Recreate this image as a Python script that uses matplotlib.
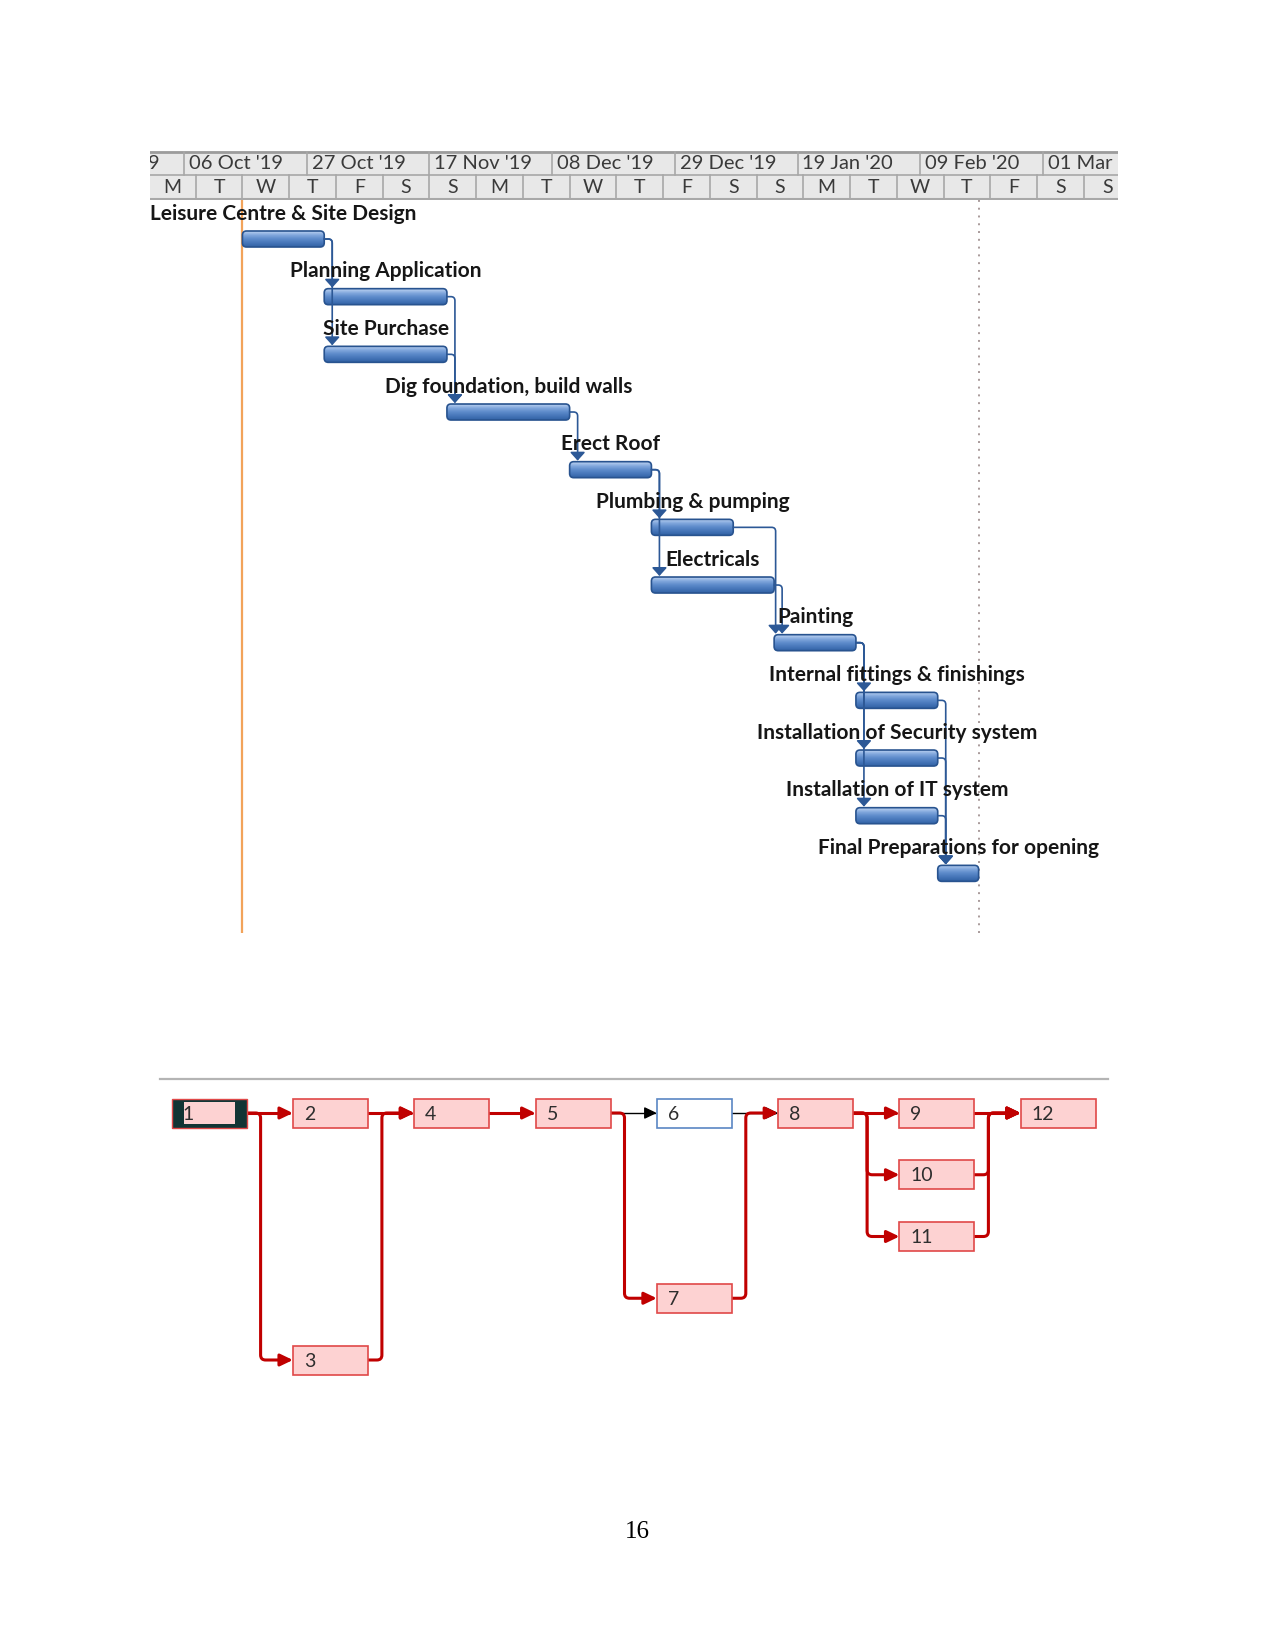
import numpy as np
import matplotlib
matplotlib.use("Agg")
import matplotlib.pyplot as plt
import matplotlib.dates as mdates
from matplotlib.patches import Rectangle, FancyBboxPatch, FancyArrowPatch
from matplotlib.path import Path
from matplotlib.colors import LinearSegmentedColormap

# ---------------- gantt data ----------------
task_names = ["Leisure Centre & Site Design", "Planning Application", "Site Purchase",
              "Dig foundation, build walls", "Erect Roof", "Plumbing & pumping",
              "Electricals", "Painting", "Internal fittings & finishings",
              "Installation of Security system", "Installation of IT system",
              "Final Preparations for opening"]
task_start = ["2019-10-16", "2019-10-30", "2019-10-30", "2019-11-20", "2019-12-11",
              "2019-12-25", "2019-12-25", "2020-01-15", "2020-01-29", "2020-01-29",
              "2020-01-29", "2020-02-12"]
task_days = [14, 21, 21, 21, 14, 14, 21, 14, 14, 14, 14, 7]
task_preds = [[], [1], [1], [2, 3], [4], [5], [5], [6, 7], [8], [8], [8], [9, 10, 11]]
status_date = "2019-10-16"
finish_date = "2020-02-19"

# timescale tiers
month_starts = ["2019-09-15", "2019-10-06", "2019-10-27", "2019-11-17", "2019-12-08",
                "2019-12-29", "2020-01-19", "2020-02-09", "2020-03-01"]
month_labels = ["15 Sep '19", "06 Oct '19", "27 Oct '19", "17 Nov '19", "08 Dec '19",
                "29 Dec '19", "19 Jan '20", "09 Feb '20", "01 Mar '20"]
day_tier_start = "2019-09-30"
day_tier_step = 8
day_letters = ["M", "T", "W", "T", "F", "S", "S"] * 3

# ---------------- network data ----------------
node_ids = [1, 2, 3, 4, 5, 6, 7, 8, 9, 10, 11, 12]
node_col = [0, 1, 1, 2, 3, 4, 4, 5, 6, 6, 6, 7]
node_row = [0, 0, 4, 0, 0, 0, 3, 0, 0, 1, 2, 0]
node_critical = [True, True, True, True, True, False, True, True, True, True, True, True]
edges = [(1, 2), (1, 3), (2, 4), (3, 4), (4, 5), (5, 6), (5, 7), (6, 8), (7, 8),
         (8, 9), (8, 10), (8, 11), (9, 12), (10, 12), (11, 12)]
selected_node = 1
page_number = "16"

plt.rcParams["font.family"] = ["Lato", "DejaVu Sans"]

W, H = 1275, 1651
fig = plt.figure(figsize=(W / 100, H / 100), dpi=100)


def axes_px(left, top, right, bottom):
    ax = fig.add_axes([left / W, 1 - bottom / H, (right - left) / W, (bottom - top) / H])
    ax.set_xticks([])
    ax.set_yticks([])
    for s in ax.spines.values():
        s.set_visible(False)
    return ax


def corner_path(points, rx, ry):
    verts = [points[0]]
    codes = [Path.MOVETO]
    for a, b, c in zip(points[:-2], points[1:-1], points[2:]):
        sxi, syi = np.sign(b[0] - a[0]), np.sign(b[1] - a[1])
        sxo, syo = np.sign(c[0] - b[0]), np.sign(c[1] - b[1])
        verts += [(b[0] - sxi * rx, b[1] - syi * ry), b, (b[0] + sxo * rx, b[1] + syo * ry)]
        codes += [Path.LINETO, Path.CURVE3, Path.CURVE3]
    verts.append(points[-1])
    codes.append(Path.LINETO)
    return Path(verts, codes)


# ---------------- gantt ----------------
x_origin = mdates.datestr2num("2019-10-06")
px_day = 122.7 / 21
px_row = 57.67
xlim = (x_origin - 34 / px_day, x_origin + 934 / px_day)

hdr = axes_px(150, 151, 1118, 200)
hdr.set_facecolor("#e8e8e8")
hdr.set_xlim(*xlim)
hdr.set_ylim(2, 0)
grid_col = "#a8a8a8"
hdr.axhline(0.03, color="#9c9c9c", lw=2)
hdr.axhline(1, color=grid_col, lw=1.2)
hdr.axhline(1.96, color=grid_col, lw=1.5)
for d, lab in zip(month_starts, month_labels):
    xm = mdates.datestr2num(d)
    hdr.plot([xm, xm], [0, 1], color=grid_col, lw=1.2)
    hdr.text(xm + 5 / px_day, 0.53, lab, ha="left", va="center", fontsize=14.5,
             color="#3a3a3a", clip_on=True)
d0 = mdates.datestr2num(day_tier_start)
for i, lab in enumerate(day_letters):
    xa = d0 + i * day_tier_step
    if i > 0:
        hdr.plot([xa, xa], [1, 2], color=grid_col, lw=1.2)
    hdr.text(xa + day_tier_step / 2, 1.5, lab, ha="center", va="center", fontsize=14,
             color="#3a3a3a", clip_on=True)

ax = axes_px(150, 200, 1118, 933)
starts = [mdates.datestr2num(s) for s in task_start]
bar_h = 16 / px_row
bar_cmap = LinearSegmentedColormap.from_list(
    "bar", ["#b8d0f0", "#80a6dc", "#5c8aca", "#4676b9", "#3262a5"])
grad = np.linspace(0, 1, 32).reshape(-1, 1)
aspect = px_day / px_row

for k, (name, s, d) in enumerate(zip(task_names, starts, task_days)):
    box = FancyBboxPatch((s, k - bar_h / 2), d, bar_h,
                         boxstyle="round,pad=0,rounding_size=0.7",
                         mutation_aspect=aspect, facecolor="none",
                         edgecolor="#28538f", lw=1.2, zorder=4)
    ax.add_patch(box)
    im = ax.imshow(grad, extent=(s, s + d, k + bar_h / 2, k - bar_h / 2),
                   aspect="auto", cmap=bar_cmap, interpolation="bilinear", zorder=3)
    im.set_clip_path(box)
    ax.text(s + d / 2, k - 25.5 / px_row, name, ha="center", va="center",
            fontsize=15, fontweight="bold", color="#161616", zorder=6)

link_col = "#2c5896"
for i, preds in enumerate(task_preds):
    for p in preds:
        j = p - 1
        pend = starts[j] + task_days[j]
        vx = max(pend + 8 / px_day, starts[i] + 1.5 / px_day)
        tip = i - bar_h / 2 - 1 / px_row
        path = corner_path([(pend, j), (vx, j), (vx, tip)], 4 / px_day, 4 / px_row)
        ax.add_patch(FancyArrowPatch(path=path, arrowstyle="-|>,head_length=5,head_width=4.5",
                                     mutation_scale=1, color=link_col, lw=1.2, zorder=5))

ax.axvline(mdates.datestr2num(status_date), color="#f2a35a", lw=1.6, zorder=2)
ax.axvline(mdates.datestr2num(finish_date), color="#a89a9a", lw=1.4,
           ls=(0, (1, 3)), zorder=2)
ax.set_xlim(*xlim)
ax.set_ylim((933 - 239) / px_row, -(239 - 200) / px_row)

# ---------------- network diagram ----------------
px_col = 121.3
px_nrow = 61.75
net = axes_px(160, 1079, 1108, 1400)
net.spines["top"].set_visible(True)
net.spines["top"].set_color("#b4b4b4")
net.spines["top"].set_linewidth(1.6)
bw = 75 / px_col
bh = 29 / px_nrow
red = "#c00000"

pos = {n: (c, r) for n, c, r in zip(node_ids, node_col, node_row)}
crit = dict(zip(node_ids, node_critical))

for critical_pass in (False, True):
    for a, b in edges:
        is_crit = crit[a] and crit[b]
        if is_crit != critical_pass:
            continue
        ca, ra = pos[a]
        cb, rb = pos[b]
        sx, tx = ca + bw, cb
        if ra == rb:
            pts = [(sx, ra), (tx, rb)]
        else:
            vx = sx + 14 / px_col
            pts = [(sx, ra), (vx, ra), (vx, rb), (tx, rb)]
        path = corner_path(pts, 5 / px_col, 5 / px_nrow)
        if is_crit:
            style = dict(color=red, lw=2.2, zorder=3)
        else:
            style = dict(color="black", lw=1.0, zorder=2)
        net.add_patch(FancyArrowPatch(path=path, arrowstyle="-|>,head_length=7.5,head_width=3.6",
                                      mutation_scale=1, **style))

for n in node_ids:
    c, r = pos[n]
    if n == selected_node:
        net.add_patch(Rectangle((c, r - bh / 2), bw, bh, facecolor="#123535",
                                edgecolor="#e04848", lw=1.0, zorder=4))
        ix, iy = 12 / px_col, 3.5 / px_nrow
        net.add_patch(Rectangle((c + ix, r - bh / 2 + iy), bw - 2 * ix, bh - 2 * iy,
                                facecolor="#fdd2d2", edgecolor="none", zorder=5))
    elif crit[n]:
        net.add_patch(Rectangle((c, r - bh / 2), bw, bh, facecolor="#fdd2d2",
                                edgecolor="#e04848", lw=1.2, zorder=4))
    else:
        net.add_patch(Rectangle((c, r - bh / 2), bw, bh, facecolor="white",
                                edgecolor="#5a86c4", lw=1.2, zorder=4))
    net.text(c + 11 / px_col, r + 0.02, str(n), ha="left", va="center", fontsize=14,
             color="#2e2e2e", zorder=6)

net.set_xlim(-11.6 / px_col, (1108 - 171.6) / px_col)
net.set_ylim((1400 - 1113) / px_nrow, -(1113 - 1079) / px_nrow)

fig.text(637 / W, 1 - 1532 / H, page_number, ha="center", va="center", fontsize=18,
         family="Liberation Serif", color="black")

fig.savefig("out.png", dpi=100, facecolor="white")
